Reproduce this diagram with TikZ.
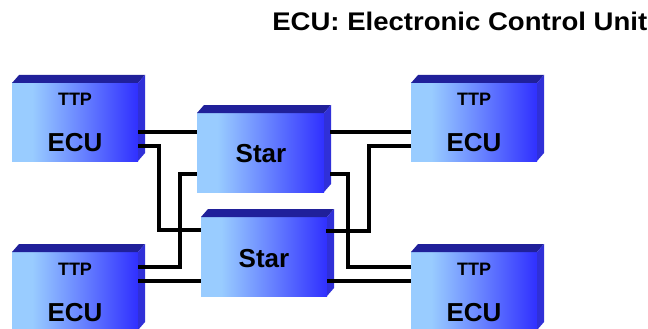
\documentclass[tikz,border=0pt]{standalone}
\usepackage{fontspec}
\setmainfont{Liberation Sans}
\definecolor{lb}{HTML}{99CCFF}
\definecolor{db}{HTML}{3030FF}
\definecolor{topc}{HTML}{20209A}
\definecolor{sidec}{HTML}{3030D8}
\pgfdeclarehorizontalshading{boxshade}{100bp}{color(0bp)=(lb); color(25bp)=(lb); color(33bp)=(lb); color(75bp)=(db); color(100bp)=(db)}
\newcommand\boxfaces[1]{%
  \fill[topface] (#1.north west) -- ++(7pt,8pt) -- ([shift={(7pt,8pt)}]#1.north east) -- (#1.north east) -- cycle;
  \fill[sideface] (#1.north east) -- ++(7pt,8pt) -- ([shift={(7pt,8pt)}]#1.south east) -- (#1.south east) -- cycle;}
\tikzset{
  front/.style={shading=boxshade, draw=none, minimum width=126pt, minimum height=78pt, anchor=north west, inner sep=0pt, outer sep=0pt},
  topface/.style={fill=topc},
  sideface/.style={fill=sidec},
  wire/.style={line width=3.6pt, line join=miter, draw=black},
  small/.style={anchor=base, font=\bfseries\fontsize{18}{18}\selectfont},
  big/.style={anchor=base, font=\bfseries\fontsize{26}{26}\selectfont},
}
\begin{document}
\begin{tikzpicture}[x=1pt, y=-1pt]
\useasboundingbox (0,0) rectangle (648,329);
\node[anchor=base east, font=\bfseries\fontsize{25.5}{25.5}\selectfont, xscale=1.08] (title) at (651,31) {ECU: Electronic Control Unit};
% boxes
\node[front] (tl) at (12,83) {};
\node[front] (tr) at (411,83) {};
\node[front] (bl) at (12,252) {};
\node[front] (br) at (411,252) {};
\node[front, minimum width=127pt, minimum height=79pt] (s1) at (197,113) {};
\node[front, minimum height=79pt] (s2) at (201,217) {};
\boxfaces{tl}\boxfaces{tr}\boxfaces{bl}\boxfaces{br}\boxfaces{s1}\boxfaces{s2}
% labels
\node[small] (tlt) at (75,105) {TTP};
\node[big] (tle) at (75,151) {ECU};
\node[small] (trt) at (474,105) {TTP};
\node[big] (tre) at (474,151) {ECU};
\node[small] (blt) at (75,275) {TTP};
\node[big] (ble) at (75,321) {ECU};
\node[small] (brt) at (474,275) {TTP};
\node[big] (bre) at (474,321) {ECU};
\node[big] (s1l) at (261,162) {Star};
\node[big] (s2l) at (264,267) {Star};
% wires
\draw[wire] ([yshift=-49pt]tl.north east) -- ([yshift=-19pt]s1.north west);
\draw[wire] ([yshift=-63pt]tl.north east) -- ++(21pt,0pt) |- ([yshift=-13pt]s2.north west);
\draw[wire] ([yshift=-15pt]bl.north east) -- ++(42pt,0pt) |- ([yshift=-61pt]s1.north west);
\draw[wire] ([yshift=-29pt]bl.north east) -- ([yshift=-64pt]s2.north west);
\draw[wire] ([xshift=6pt,yshift=-19pt]s1.north east) -- ([yshift=-49pt]tr.north west);
\draw[wire] ([yshift=-63pt]tr.north west) -- ++(-42pt,0pt) |- ([xshift=-1pt,yshift=-14pt]s2.north east);
\draw[wire] ([xshift=6pt,yshift=-61pt]s1.north east) -- ++(18pt,0pt) |- ([yshift=-15pt]br.north west);
\draw[wire] ([yshift=-64pt]s2.north east) -- ([yshift=-29pt]br.north west);
\end{tikzpicture}
\end{document}
